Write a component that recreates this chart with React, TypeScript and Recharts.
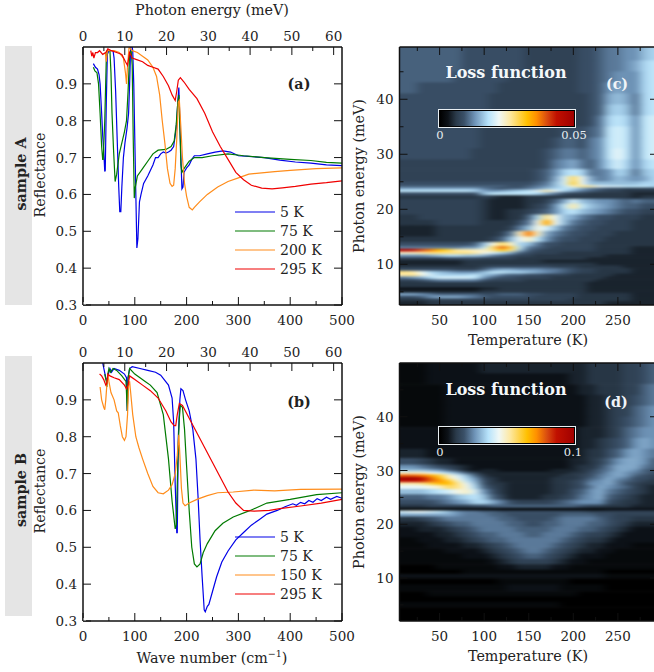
import React from 'react';
import { LineChart, Line, ScatterChart, Scatter, XAxis, YAxis } from 'recharts';

const FONT = '"DejaVu Serif", serif';
const TEXT = '#222';

// reflectance curves, [wave number, reflectance]
const a5K = [[20,.955],[24,.945],[28,.94],[31,.925],[33,.9],[36,.82],[38,.76],[40,.72],[42,.662],[43,.665],[45,.85],[47,.98],[50,.99],[58,.99],[60,.97],[63,.88],[66,.75],[69,.62],[71,.553],[73,.553],[75,.62],[78,.7],[81,.74],[85,.78],[88,.82],[90,.9],[92,1],[95,1],[96,.99],[98,.9],[100,.75],[102,.6],[104,.455],[106,.48],[109,.58],[112,.6],[117,.63],[125,.65],[130,.665],[135,.68],[140,.7],[145,.7],[150,.71],[155,.715],[160,.712],[165,.715],[170,.72],[175,.73],[180,.78],[183,.85],[185,.89],[187,.8],[189,.7],[191,.615],[193,.62],[195,.66],[200,.672],[205,.68],[210,.695],[215,.705],[225,.705],[240,.71],[255,.715],[270,.718],[285,.715],[300,.705],[320,.703],[350,.7],[380,.693],[410,.688],[440,.685],[470,.68],[500,.678]];
const a75K = [[20,.945],[23,.935],[27,.93],[30,.9],[33,.82],[36,.73],[38,.695],[39,.695],[42,.8],[45,.97],[47,.99],[52,.99],[54,.93],[56,.82],[59,.72],[62,.635],[65,.655],[70,.71],[75,.74],[80,.77],[84,.8],[87,.88],[90,.98],[93,.99],[95,.95],[97,.75],[99,.59],[101,.62],[105,.65],[115,.67],[125,.69],[135,.71],[145,.72],[160,.722],[170,.73],[176,.745],[180,.79],[183,.85],[185,.87],[187,.78],[189,.68],[191,.66],[195,.67],[205,.69],[215,.7],[230,.7],[250,.705],[280,.71],[310,.705],[350,.7],[400,.695],[440,.692],[470,.687],[500,.685]];
const a200K = [[43,.985],[45,.96],[47,.99],[60,.99],[70,.985],[78,.97],[82,.93],[84,.9],[86,.95],[89,1],[95,.99],[105,.985],[115,.975],[125,.965],[135,.945],[142,.92],[148,.87],[153,.8],[158,.74],[163,.67],[168,.63],[172,.622],[175,.625],[178,.67],[181,.75],[184,.85],[186,.855],[189,.78],[192,.7],[196,.63],[200,.595],[205,.565],[211,.558],[215,.565],[225,.58],[240,.6],[260,.62],[280,.635],[300,.645],[320,.655],[340,.658],[370,.662],[400,.665],[450,.67],[500,.672]];
const a295K = [[15,.99],[17,.975],[19,.985],[21,.97],[24,.985],[28,.985],[32,.99],[38,.98],[44,.985],[48,.995],[55,.99],[65,.985],[75,.98],[82,.96],[86,.95],[90,.985],[95,.97],[105,.965],[115,.96],[125,.95],[135,.945],[145,.94],[155,.92],[165,.895],[172,.87],[178,.855],[181,.88],[184,.91],[188,.917],[195,.905],[205,.885],[220,.86],[235,.82],[250,.77],[265,.73],[280,.695],[295,.66],[310,.64],[325,.625],[345,.617],[365,.615],[385,.618],[410,.622],[440,.628],[470,.632],[500,.637]];

const b5K = [[38,1],[41,.98],[44,.96],[46,.95],[48,.965],[52,.985],[55,.975],[60,.985],[70,.98],[80,.97],[84,.96],[85.5,.87],[87,.96],[90,.985],[95,.99],[110,.985],[125,.98],[140,.975],[150,.967],[165,.94],[172,.905],[175,.84],[178,.67],[181,.54],[182,.54],[184,.8],[187,.9],[189,.93],[193,.925],[198,.9],[205,.87],[212,.82],[218,.74],[222,.64],[226,.52],[230,.42],[234,.33],[236,.325],[240,.34],[243,.345],[250,.38],[258,.42],[268,.46],[280,.49],[295,.52],[310,.54],[325,.56],[340,.575],[355,.59],[375,.6],[390,.61],[405,.618],[412,.614],[420,.622],[428,.618],[436,.627],[444,.622],[452,.632],[460,.627],[470,.636],[478,.63],[490,.638],[500,.633]];
const b75K = [[42,.97],[45,.95],[46,.935],[48,.97],[50,.985],[53,.975],[58,.985],[65,.98],[75,.965],[83,.95],[85.5,.87],[87,.96],[90,.985],[100,.97],[110,.96],[120,.95],[130,.94],[143,.92],[155,.86],[165,.74],[172,.625],[178,.55],[180,.56],[184,.78],[186,.85],[188,.885],[192,.88],[196,.82],[200,.72],[205,.6],[210,.5],[215,.455],[220,.447],[226,.455],[232,.485],[240,.51],[255,.545],[270,.565],[290,.582],[323,.6],[355,.62],[400,.63],[451,.643],[500,.648]];
const b150K = [[33,.935],[36,.9],[40,.88],[42,.873],[44,.9],[46,.94],[48,.97],[50,.95],[54,.92],[60,.9],[65,.87],[68,.865],[72,.83],[76,.8],[80,.79],[83,.8],[86,.86],[88,.94],[90,.95],[92,.92],[96,.86],[102,.8],[108,.77],[115,.74],[125,.7],[135,.665],[145,.648],[155,.645],[165,.655],[172,.67],[178,.7],[182,.75],[185,.805],[187,.75],[190,.66],[193,.62],[197,.613],[205,.62],[220,.63],[240,.64],[260,.648],[290,.65],[330,.655],[370,.653],[420,.657],[500,.658]];
const b295K = [[32,.97],[36,.965],[40,.955],[44,.94],[46,.945],[48,.97],[52,.965],[60,.96],[70,.955],[80,.94],[84,.93],[87,.94],[90,.965],[100,.955],[115,.94],[130,.925],[145,.905],[160,.87],[170,.84],[176,.83],[179,.83],[182,.86],[186,.89],[192,.885],[205,.85],[220,.81],[235,.77],[250,.73],[265,.69],[280,.65],[295,.62],[310,.6],[330,.598],[360,.6],[380,.605],[420,.612],[460,.62],[500,.63]];

const seriesColors = ['#0000e8', '#007a00', '#ff8c1a', '#f00000'];
const legendA = ['5 K', '75 K', '200 K', '295 K'];
const legendB = ['5 K', '75 K', '150 K', '295 K'];

const waveTicks = [0, 50, 100, 150, 200, 250, 300, 350, 400, 450, 500];
const waveMajor = [0, 100, 200, 300, 400, 500];
const meVTicks = [0, 5, 10, 15, 20, 25, 30, 35, 40, 45, 50, 55, 60];
const meVMajor = [0, 10, 20, 30, 40, 50, 60];
const reflTicks = [0.3, 0.4, 0.5, 0.6, 0.7, 0.8, 0.9];
const tempTicks = [25, 50, 75, 100, 125, 150, 175, 200, 225, 250, 275];
const tempMajor = [50, 100, 150, 200, 250];
const energyTicks = [5, 10, 15, 20, 25, 30, 35, 40, 45];
const energyMajor = [10, 20, 30, 40];

// loss function maps: one char per temperature (base 36 level of the colour bar), 10..290 K
const temps = [10,20,30,40,50,60,70,80,90,100,110,120,130,140,150,160,170,180,190,200,210,220,230,240,250,260,270,280,290];

const energiesC = [48,46,44,42,40,38,36,34,32,30,28,26.5,25.5,24.5,24.1,23.7,23.3,22.8,22.2,21.5,20.5,19.5,18.5,17.5,16.5,15.5,14.5,13.5,13,12.5,12,11.5,11,10.5,10,9.5,9,8.5,8,7.5,7,6.5,6,5.5,5,4.5,4,3.5,3];
const lossC = [
  '777777766 66666 55555 5667 889 9bc',
  '777777766 66666 55555 5667 889 acd',
  '777777666 66655 55555 5667 899 9cd',
  '776666666 66555 55555 5667 9a9 9cd',
  '666666666 65555 55555 5567 aba 8cd',
  '666666666 65555 55555 5567 bcb 8cd',
  '666666666 55555 55555 5568 cdc 9de',
  '666666666 55555 55556 6678 ded 9de',
  '666666666 55555 55567 7689 ded 9de',
  '666666665 55555 55678 8789 dfd 9de',
  '555555555 55555 55689 a879 cec 9cd',
  '555555555 55555 5679c dc88 9cb 8bc',
  '555555555 55555 567ae kfa8 9ba 9ac',
  '666666666 66666 678be lfbb bbb bcc',
  '777777777 77766 789bd hjif eed ddc',
  'aaaaaaaaa 87677 89bcd ca87 665 555',
  'ddddddddc a9abc dfifc a876 554 444',
  '666666666 bdddd dca86 5544 444 333',
  '444444444 54333 44444 4444 444 344',
  '555555555 43333 4457a eba9 987 877',
  '555555555 43333 4569d idba 987 766',
  '555555555 43344 5679c dba9 876 655',
  '445555555 43344 7cjfb a876 655 544',
  '444455555 44446 8fofb 8766 555 444',
  '333344444 44458 bgeb8 7665 555 444',
  '333344444 4458h qha87 6655 544 444',
  '444444444 457bf hd976 6555 444 444',
  '666666667 bgkhc b8665 5554 444 444',
  '888888899 dkrld 87655 5554 444 333',
  'xvsqnliih hjmjb 76555 5554 444 333',
  'hhijjjjji geca7 65554 4444 444 333',
  '999abccbb a8765 54444 4444 333 333',
  '555556666 55554 44444 4433 333 333',
  '333333344 44444 44333 3333 333 333',
  '333333344 44444 44444 4443 333 333',
  '444444444 56666 66655 5444 443 333',
  '666666555 79aa9 99887 6554 444 333',
  'jifcba999 bddcc ba987 6554 444 333',
  'ijgeccccd ba877 66555 4444 433 333',
  '89aceeeed 97665 55544 4444 333 333',
  '556788888 65555 44444 4443 333 333',
  '444444444 44444 44444 4433 333 333',
  '444444444 44444 44444 4433 333 333',
  '222222222 33444 44444 4433 333 333',
  '333333333 44444 44444 4433 333 333',
  'aa9877777 66777 66555 5444 444 333',
  '6679aaa98 76666 65555 5444 444 333',
  '444555555 55555 55555 4444 444 333',
  '333444444 44444 44444 4444 333 333',
];

const energiesD = [49,47,45,43,41,39,37,35,33,31.5,30.5,30,29.5,29,28.5,28,27.5,27,26,25,24,23.25,22.75,22.25,21.75,21,20,19,18,17,16,15,14,13,12,11,10.3,9.5,8,7,6,5,4,3];
const lossD = [
  '111222222 33333 33333 3344 445 567',
  '111222222 22222 22222 3344 445 567',
  '111112222 22222 22222 2334 445 578',
  '111112222 22222 22222 2233 445 678',
  '111112222 22222 22222 2233 455 789',
  '111112222 22222 22222 2233 456 789',
  '222222222 22222 22222 2333 457 899',
  '222222222 22222 22222 2334 567 9a9',
  '333222222 22222 22222 2344 679 a98',
  '665433222 22222 22222 3345 79a a97',
  '998765432 22222 22222 3446 8aa a87',
  'bbba97532 33222 22233 3457 8aa 976',
  'hhhfeca75 33333 33333 4467 9a9 876',
  'rrqolheb7 43333 33334 4568 9a9 765',
  'zzwrnifc9 54333 33344 4578 a98 665',
  'vvurpmhda 64333 33344 5689 a87 654',
  'iijlnnjfb 64433 33344 5699 a86 544',
  'fffghkjgc 75433 33344 568a 987 543',
  'bbbcdeghe 96433 33344 679a 876 543',
  '777889bcd b7533 33445 689a 765 433',
  '6666789ac ca865 55567 8999 654 433',
  '444555556 67777 77777 7655 444 333',
  '111111111 11111 11111 1111 222 222',
  'effedb988 77666 66666 6655 555 555',
  'aaaaaa988 87766 66667 7776 655 555',
  '445678888 88776 66678 8887 655 444',
  '333456778 88877 66778 8877 654 333',
  '223334567 88887 77788 8776 543 222',
  '222233456 77888 77888 7655 432 222',
  '112223345 67788 88887 6544 322 222',
  '111222233 45678 88876 5433 222 111',
  '111112222 34567 88765 4332 211 111',
  '111111122 23456 77654 3222 111 111',
  '111111111 12345 55543 2211 111 111',
  '000011111 11223 33322 1111 111 111',
  '000000011 11111 11111 1111 000 000',
  '222222222 22222 22222 2222 111 111',
  '000000000 00111 11111 0000 000 000',
  '111111111 11122 22221 1111 000 000',
  '000111111 11111 11111 1000 000 000',
  '000000000 00000 00000 0000 000 000',
  '111111111 11111 11110 0000 000 000',
  '000000000 00000 00000 0000 000 000',
  '000000000 00000 00000 0000 000 000',
];

// colour bar stops
const barStops: [number, string][] = [
  [0, '#000000'], [0.06, '#0d1218'], [0.12, '#2a3a4a'], [0.18, '#3a5068'], [0.26, '#6f94b8'],
  [0.36, '#b7e3fb'], [0.44, '#f0f8f6'], [0.52, '#fde9a5'], [0.65, '#ffc000'], [0.72, '#ff9000'],
  [0.8, '#d84a10'], [0.87, '#c01000'], [1, '#a00000'],
];

const hex = (s: string, i: number) => parseInt(s.slice(i, i + 2), 16);
const levelColor = (t: number) => {
  let i = 0;
  while (i < barStops.length - 2 && t > barStops[i + 1][0]) i++;
  const [t0, c0] = barStops[i];
  const [t1, c1] = barStops[i + 1];
  const f = Math.min(1, Math.max(0, (t - t0) / (t1 - t0)));
  const ch = (k: number) => Math.round(hex(c0, k) + (hex(c1, k) - hex(c0, k)) * f);
  return `rgb(${ch(1)},${ch(3)},${ch(5)})`;
};
const barGradient = `linear-gradient(to right, ${barStops.map(([t, c]) => `${c} ${t * 100}%`).join(', ')})`;

const toPoints = (pairs: number[][]) => pairs.map(([x, y]) => ({ x, y }));

const axisTick = (side: string, major: number[] | null, fmt?: (v: number) => string) => (p: any) => {
  const { x, y, payload } = p;
  const isMajor = !major || major.includes(payload.value);
  const len = isMajor ? 8 : 4;
  const line = {
    bottom: [x, y, x, y - len],
    top: [x, y, x, y + len],
    left: [x, y, x + len, y],
    right: [x, y, x - len, y],
  }[side] as number[];
  const common = { fontFamily: FONT, fontSize: 13.5, fill: TEXT };
  return (
    <g>
      <line x1={line[0]} y1={line[1]} x2={line[2]} y2={line[3]} stroke="#111" strokeWidth={1} />
      {isMajor && fmt && side === 'bottom' && <text x={x} y={y + 20} textAnchor="middle" {...common}>{fmt(payload.value)}</text>}
      {isMajor && fmt && side === 'top' && <text x={x} y={y - 6} textAnchor="middle" {...common}>{fmt(payload.value)}</text>}
      {isMajor && fmt && side === 'left' && <text x={x - 6} y={y + 5} textAnchor="end" {...common}>{fmt(payload.value)}</text>}
    </g>
  );
};
const plain = (v: number) => String(v);
const oneDec = (v: number) => v.toFixed(1);

const Txt = ({ x, y, rot, size = 14.3, bold, color = TEXT, children }: any) => (
  <div style={{
    position: 'absolute', left: x, top: y, whiteSpace: 'nowrap', fontFamily: FONT, fontSize: size,
    fontWeight: bold ? 700 : 400, color, lineHeight: 1,
    transform: `translate(-50%, -50%)${rot ? ' rotate(-90deg)' : ''}`,
  }}>{children}</div>
);

const axisLine = { stroke: '#111', strokeWidth: 1.5 };
const noTickLine = { tickLine: false, tickSize: 0, tickMargin: 0, allowDataOverflow: true, axisLine };

const ReflectancePanel = ({ top, curves }: any) => (
  <div style={{ position: 'absolute', left: 0, top }}>
    <LineChart width={360} height={330} margin={{ top: 46, bottom: 24, left: 82, right: 17 }}>
      <XAxis xAxisId="wave" type="number" dataKey="x" domain={[0, 500]} ticks={waveTicks} interval={0} height={1}
        {...noTickLine} tick={axisTick('bottom', waveMajor, plain)} />
      <XAxis xAxisId="mev" type="number" dataKey="x" orientation="top" domain={[0, 62]} ticks={meVTicks} interval={0} height={1}
        {...noTickLine} tick={axisTick('top', meVMajor, plain)} />
      <YAxis yAxisId="refl" type="number" domain={[0.3, 1]} ticks={reflTicks} interval={0} width={1}
        {...noTickLine} tick={axisTick('left', null, oneDec)} />
      <YAxis yAxisId="reflR" orientation="right" type="number" domain={[0.3, 1]} ticks={reflTicks} interval={0} width={1}
        {...noTickLine} tick={axisTick('right', null)} />
      {curves.map((c: number[][], i: number) => (
        <Line key={i} xAxisId="wave" yAxisId="refl" data={toPoints(c)} dataKey="y" type="linear" dot={false}
          stroke={seriesColors[i]} strokeWidth={1.2} isAnimationActive={false} />
      ))}
      {/* empty series so the top and right axes get their ticks */}
      <Line xAxisId="mev" yAxisId="reflR" data={toPoints([[0, 0.3]])} dataKey="y" dot={false} stroke="none" isAnimationActive={false} />
    </LineChart>
  </div>
);

const CURVE_LEGEND_X = 235;
const CurveLegend = ({ top, labels }: any) => (
  <>
    <svg width={40} height={70} style={{ position: 'absolute', left: CURVE_LEGEND_X, top: top - 5 }}>
      {labels.map((l: string, i: number) => (
        <line key={l} x1={0} x2={40} y1={5 + i * 19} y2={5 + i * 19} stroke={seriesColors[i]} strokeWidth={1.2} />
      ))}
    </svg>
    {labels.map((l: string, i: number) => (
      <div key={l} style={{ position: 'absolute', left: CURVE_LEGEND_X + 45, top: top + i * 19 - 7, fontFamily: FONT, fontSize: 14, color: TEXT, lineHeight: 1, whiteSpace: 'nowrap' }}>{l}</div>
    ))}
  </>
);

const PLOT_W = 258.5;
const PLOT_H = 258;
const BLEED = 14;
// the cell layer is drawn narrow and stretched, so a plain css blur comes out wider than tall
const STRETCH = 5;

const buildCells = (rows: string[], energies: number[], yDomain: number[]) => {
  const cells: any[] = [];
  rows.forEach((row, r) => {
    const levels = row.replace(/ /g, '');
    const e = energies[r];
    const hi = r === 0 ? yDomain[1] : (energies[r - 1] + e) / 2;
    const lo = r === energies.length - 1 ? yDomain[0] : (energies[r + 1] + e) / 2;
    temps.forEach((t, c) => {
      cells.push({ t, e, hi, lo, first: c === 0, last: c === temps.length - 1, top: r === 0, bottom: r === energies.length - 1, level: parseInt(levels[c], 36) });
    });
  });
  return cells;
};

const HeatPanel = ({ top, rows, energies, yDomain }: any) => {
  const pxK = PLOT_W / STRETCH / 290;
  const pxE = PLOT_H / (yDomain[1] - yDomain[0]);
  const bleedX = BLEED / STRETCH;
  // edge cells run on past the plot so the blur does not fade at the frame
  const cell = (p: any) => {
    const d = p.payload;
    const l = p.cx - 5 * pxK - 0.1 - (d.first ? bleedX : 0);
    const r = p.cx + 5 * pxK + 0.1 + (d.last ? bleedX : 0);
    const t = p.cy - (d.hi - d.e) * pxE - 0.3 - (d.top ? BLEED : 0);
    const b = p.cy + (d.e - d.lo) * pxE + 0.3 + (d.bottom ? BLEED : 0);
    return <rect x={l} y={t} width={r - l} height={b - t} fill={levelColor(d.level / 35)} />;
  };
  return (
    <>
      <div style={{ position: 'absolute', left: 399.5, top: top + 47, width: PLOT_W, height: PLOT_H, overflow: 'hidden' }}>
        <div style={{ position: 'absolute', left: -BLEED, top: -BLEED, transformOrigin: '0 0', transform: `scaleX(${STRETCH})`, filter: 'blur(0.8px)' }}>
          <ScatterChart width={(PLOT_W + 2 * BLEED) / STRETCH} height={PLOT_H + 2 * BLEED} margin={{ top: BLEED, bottom: BLEED, left: bleedX, right: bleedX }}>
            <XAxis hide type="number" dataKey="t" domain={[5, 295]} />
            <YAxis hide type="number" dataKey="e" domain={yDomain} />
            <Scatter data={buildCells(rows, energies, yDomain)} shape={cell} isAnimationActive={false} />
          </ScatterChart>
        </div>
      </div>
      <div style={{ position: 'absolute', left: 350, top }}>
        <ScatterChart width={320} height={330} margin={{ top: 46, bottom: 24, left: 48.5, right: 11 }}>
          <XAxis xAxisId="t" type="number" dataKey="t" domain={[5, 295]} ticks={tempTicks} interval={0} height={1}
            {...noTickLine} tick={axisTick('bottom', tempMajor, plain)} />
          <XAxis xAxisId="tTop" type="number" dataKey="t" orientation="top" domain={[5, 295]} ticks={tempTicks} interval={0} height={1}
            {...noTickLine} tick={axisTick('top', tempMajor)} />
          <YAxis yAxisId="e" type="number" dataKey="e" domain={yDomain} ticks={energyTicks} interval={0} width={1}
            {...noTickLine} tick={axisTick('left', energyMajor, plain)} />
          <YAxis yAxisId="eR" orientation="right" type="number" dataKey="e" domain={yDomain} ticks={energyTicks} interval={0} width={1}
            {...noTickLine} tick={axisTick('right', energyMajor)} />
          <Scatter xAxisId="t" yAxisId="e" data={[{ t: 10, e: 10 }]} shape={() => <g />} isAnimationActive={false} />
          <Scatter xAxisId="tTop" yAxisId="eR" data={[{ t: 10, e: 10 }]} shape={() => <g />} isAnimationActive={false} />
        </ScatterChart>
      </div>
    </>
  );
};

const ColorBar = ({ y, maxLabel, maxX }: any) => (
  <>
    <div style={{ position: 'absolute', left: 438, top: y, width: 137.5, height: 18.5, boxSizing: 'border-box', border: '1.5px solid #e8eef2', background: '#000', padding: 1 }}>
      <div style={{ width: '100%', height: '100%', background: barGradient }} />
    </div>
    <Txt x={440} y={y + 27} size={11.5} color="#e8eef2">0</Txt>
    <Txt x={maxX} y={y + 27} size={11.5} color="#e8eef2">{maxLabel}</Txt>
  </>
);

export default function App() {
  return (
    <div style={{ position: 'fixed', left: 0, top: 0, width: 654, height: 672, overflow: 'hidden', background: '#fff' }}>
      <div style={{ position: 'absolute', left: 5, top: 46, width: 27, height: 259, background: '#e5e5e5' }} />
      <div style={{ position: 'absolute', left: 5, top: 356, width: 27, height: 260, background: '#e5e5e5' }} />
      <Txt x={21} y={174} rot bold>sample A</Txt>
      <Txt x={21} y={490} rot bold>sample B</Txt>
      <Txt x={40} y={175} rot>Reflectance</Txt>
      <Txt x={40} y={491} rot>Reflectance</Txt>

      <ReflectancePanel top={0} curves={[a5K, a75K, a200K, a295K]} />
      <ReflectancePanel top={316} curves={[b5K, b75K, b150K, b295K]} />
      <CurveLegend top={212} labels={legendA} />
      <CurveLegend top={537} labels={legendB} />
      <Txt x={212} y={10}>Photon energy (meV)</Txt>
      <Txt x={212} y={658}>Wave number (cm<sup style={{ fontSize: 9.5, lineHeight: 0 }}>−1</sup>)</Txt>
      <Txt x={299} y={84} bold>(a)</Txt>
      <Txt x={299} y={402} bold>(b)</Txt>

      <HeatPanel top={0} rows={lossC} energies={energiesC} yDomain={[2.6, 49.5]} />
      <HeatPanel top={316} rows={lossD} energies={energiesD} yDomain={[2, 50]} />
      <Txt x={359} y={176} rot>Photon energy (meV)</Txt>
      <Txt x={359} y={492} rot>Photon energy (meV)</Txt>
      <Txt x={528} y={340}>Temperature (K)</Txt>
      <Txt x={528} y={656}>Temperature (K)</Txt>
      <Txt x={506} y={73} size={16} bold color="#f4f8fa">Loss function</Txt>
      <Txt x={506} y={390} size={16} bold color="#f4f8fa">Loss function</Txt>
      <Txt x={617} y={84} bold color="#f0f4f8">(c)</Txt>
      <Txt x={616} y={402} bold color="#f0f4f8">(d)</Txt>
      <ColorBar y={109} maxLabel="0.05" maxX={574} />
      <ColorBar y={426} maxLabel="0.1" maxX={573} />
    </div>
  );
}
